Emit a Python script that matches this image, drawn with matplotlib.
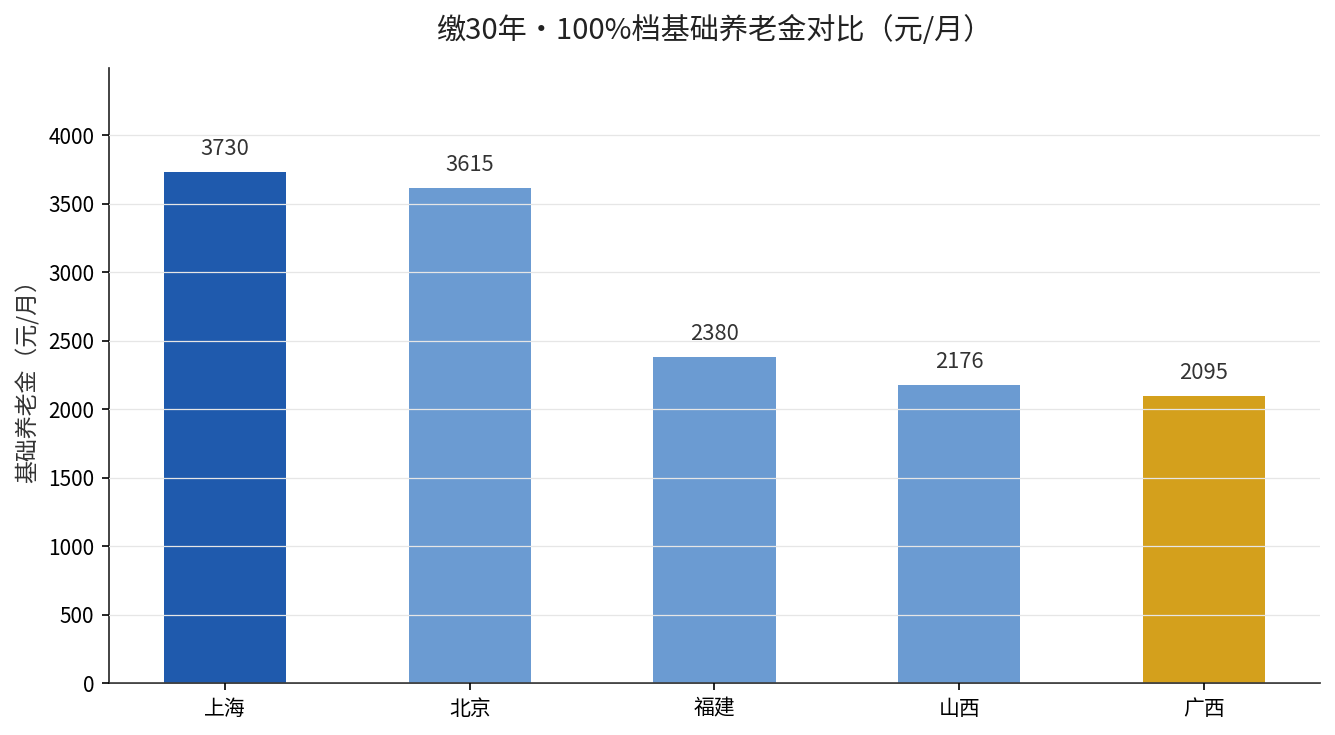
import matplotlib
matplotlib.use("Agg")
import matplotlib.pyplot as plt

plt.rcParams['font.family'] = ['Noto Sans CJK SC', 'DejaVu Sans']

regions = ["上海", "北京", "福建", "山西", "广西"]
pension = [3730, 3615, 2380, 2176, 2095]
colors = ["#1f5aad", "#6b9bd2", "#6b9bd2", "#6b9bd2", "#d4a01c"]
title = "缴30年・100%档基础养老金对比（元/月）"
ylabel = "基础养老金（元/月）"

fig = plt.figure(figsize=(8.9, 4.9), dpi=150)
ax = fig.add_axes([0.0816, 0.0707, 0.9072, 0.8368])

x = range(len(regions))
bars = ax.bar(x, pension, width=0.5, color=colors, zorder=2)
ax.set_xticks(list(x))
ax.set_xticklabels(regions, fontsize=10)
ax.tick_params(axis='y', labelsize=10)
ax.set_ylim(0, 4490)

ax.yaxis.grid(True, color="#e6e6e6", linewidth=0.6, zorder=3)
ax.set_axisbelow(False)

for xi, v in zip(x, pension):
    ax.text(xi, v + max(pension) * 0.024, f"{v}", ha="center", va="bottom",
            fontsize=10.5, color="#333333")

ax.set_ylabel(ylabel, fontsize=11, color="#333333")
ax.set_title(title, fontsize=14, color="#222222", pad=14)

for s in ["top", "right"]:
    ax.spines[s].set_visible(False)
for s in ["left", "bottom"]:
    ax.spines[s].set_color("#222222")

fig.savefig("out.png", dpi=150)
